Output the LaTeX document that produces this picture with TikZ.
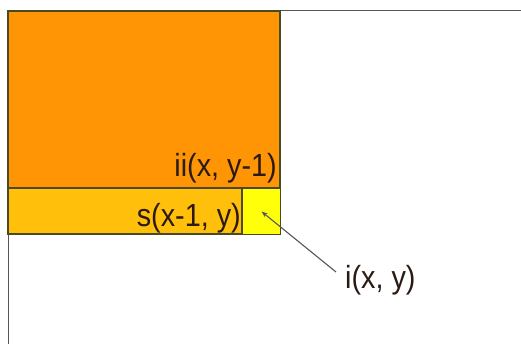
\documentclass[tikz,border=0pt]{standalone}
\usepackage{fontspec}
\setmainfont{Liberation Sans}
\usepackage{xcolor}
\usetikzlibrary{arrows.meta,positioning}
\definecolor{corange}{HTML}{FF9505}
\definecolor{camber}{HTML}{FFBF0A}
\definecolor{cyel}{HTML}{FFFF0A}
\definecolor{cedge}{HTML}{4A4A22}
\definecolor{cgray}{HTML}{555555}
\definecolor{ctext}{HTML}{2A1A12}

\begin{document}
\begin{tikzpicture}[x=1pt,y=-1pt,
  box/.style={draw=cedge,line width=1.2pt},
  frame/.style={draw=cgray,line width=1pt},
  lbl/.style={font=\fontsize{32}{36}\selectfont,text=ctext,inner sep=0pt,
              xscale=0.9,transform shape},
  ar/.style={-{Stealth[length=6pt,width=4.5pt]},line width=1.1pt,cgray}]
\useasboundingbox (0,0) rectangle (521,344);
\draw[frame] (521,11) -- (8,11) -- (8,344);
\filldraw[box,fill=corange] (8,11) rectangle (280,188);
\filldraw[box,fill=camber] (8,188) rectangle (242,234);
\node[box,fill=cyel,inner sep=0pt,minimum width=38pt,minimum height=46pt,
      anchor=north west] (cell) at (242,188) {};
\node[lbl,anchor=base east] (ii) at (277,177) {ii(x, y-1)};
\node[lbl,anchor=base east] (s) at (241,227) {s(x-1, y)};
\node[lbl,anchor=base west] (ilbl) at (345,288) {i(x, y)};
\coordinate (tail) at (336,272);
\draw[ar] (tail) -- (cell.center);
\end{tikzpicture}
\end{document}
